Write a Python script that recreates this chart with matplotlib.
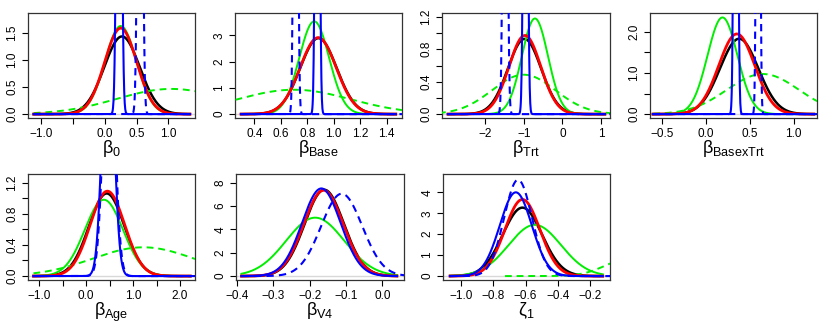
import numpy as np
import matplotlib
matplotlib.use("Agg")
from matplotlib import pyplot as plt

plt.rcParams['font.family'] = ['Liberation Sans', 'DejaVu Sans']
plt.rcParams['mathtext.fontset'] = 'custom'
plt.rcParams['mathtext.rm'] = 'Liberation Sans'
plt.rcParams['mathtext.it'] = 'Liberation Sans:italic'

# one entry per panel
labels = ['β$_{\\mathrm{0}}$', 'β$_{\\mathrm{Base}}$', 'β$_{\\mathrm{Trt}}$', 'β$_{\\mathrm{BasexTrt}}$',
          'β$_{\\mathrm{Age}}$', 'β$_{\\mathrm{V4}}$', 'ζ$_{\\mathrm{1}}$']

# (mean, sd) of each density curve
black_mu = [0.27, 0.885, -0.98, 0.38, 0.44, -0.160, -0.62]
black_sd = [0.279, 0.138, 0.43, 0.218, 0.376, 0.054, 0.122]
red_mu = [0.25, 0.883, -0.97, 0.353, 0.455, -0.162, -0.62]
red_sd = [0.252, 0.137, 0.411, 0.205, 0.366, 0.0543, 0.109]
green_mu = [0.25, 0.853, -0.71, 0.19, 0.38, -0.185, -0.543]
green_sd = [0.246, 0.113, 0.338, 0.17, 0.407, 0.0798, 0.163]
gdash_mu = [1.05, 0.70, -1.0, 0.65, 1.22, None, 0.05]
gdash_sd = [0.86, 0.43, 0.82, 0.41, 1.08, None, 0.15]
gdash_scale = [1, 1, 1, 1, 1, 1, 0.32]
blue_mu = [0.224, 0.877, -0.954, 0.342, 0.47, -0.168, -0.661]
blue_sd = [0.031, 0.012, 0.042, 0.017, 0.12, 0.0532, 0.0997]
bdash_mu = [0.555, 0.713, -1.48, 0.596, 0.49, -0.112, -0.647]
bdash_sd = [0.031, 0.012, 0.045, 0.015, 0.12, 0.0566, 0.0867]

# support of the estimated densities
curve_lo = [-1.12, 0.30, -2.96, -0.60, -1.12, -0.388, -1.07]
curve_hi = [1.34, 1.47, 1.10, 1.23, 2.22, 0.04, -0.12]
gdash_lo = [-1.12, 0.0, -3.5, -0.6, -1.12, None, -0.73]

xticks = [[-1.0, -0.5, 0.0, 0.5, 1.0],
          [0.4, 0.6, 0.8, 1.0, 1.2, 1.4],
          [-2, -1, 0, 1],
          [-0.5, 0.0, 0.5, 1.0],
          [-1.0, -0.5, 0.0, 0.5, 1.0, 1.5, 2.0],
          [-0.4, -0.3, -0.2, -0.1, 0.0],
          [-1.0, -0.8, -0.6, -0.4, -0.2]]
xticklabels = [['−1.0', '', '0.0', '0.5', '1.0'],
               ['0.4', '0.6', '0.8', '1.0', '1.2', '1.4'],
               ['−2', '−1', '0', '1'],
               ['−0.5', '0.0', '0.5', '1.0'],
               ['−1.0', '', '0.0', '', '1.0', '', '2.0'],
               ['−0.4', '−0.3', '−0.2', '−0.1', '0.0'],
               ['−1.0', '−0.8', '−0.6', '−0.4', '−0.2']]
yticks = [[0.0, 0.5, 1.0, 1.5],
          [0, 1, 2, 3],
          [0.0, 0.2, 0.4, 0.6, 0.8, 1.0, 1.2],
          [0.0, 0.5, 1.0, 1.5, 2.0],
          [0.0, 0.2, 0.4, 0.6, 0.8, 1.0, 1.2],
          [0, 2, 4, 6, 8],
          [0, 1, 2, 3, 4]]
yticklabels = [['0.0', '0.5', '1.0', '1.5'],
               ['0', '1', '2', '3'],
               ['0.0', '', '0.4', '', '0.8', '', '1.2'],
               ['0.0', '', '1.0', '', '2.0'],
               ['0.0', '', '0.4', '', '0.8', '', '1.2'],
               ['0', '2', '4', '6', '8'],
               ['0', '1', '2', '3', '4']]

xlims = [(-1.21, 1.42), (0.254, 1.517), (-3.115, 1.232), (-0.634, 1.265),
         (-1.235, 2.319), (-0.403, 0.0595), (-1.114, -0.075)]
ytops = [1.79, 3.70, 1.20, 2.36, 1.26, 8.40, 4.69]

# axes frames in pixels: left, top, right, bottom
frames = [(28, 13, 195, 118), (235, 13, 402, 118), (442, 13, 610, 118), (650, 13, 817, 118),
          (28, 174, 195, 280), (236, 174, 404, 280), (443, 174, 610, 280)]

W, H = 830, 323


def dens(x, mu, sd):
    return np.exp(-0.5 * ((x - mu) / sd) ** 2) / (sd * np.sqrt(2 * np.pi))


fig = plt.figure(figsize=(W / 100, H / 100), dpi=100)

for i in range(7):
    l, t, r, b = frames[i]
    ax = fig.add_axes([l / W, 1 - b / H, (r - l) / W, (b - t) / H])
    x = np.linspace(curve_lo[i], curve_hi[i], 600)
    xw = np.linspace(xlims[i][0] - 0.5, xlims[i][1] + 0.5, 800)

    ax.axhline(0, color='#d8d8d8', lw=1, zorder=1)
    ax.plot(x, dens(x, black_mu[i], black_sd[i]), color='black', lw=1.8, zorder=2)
    if gdash_mu[i] is not None:
        xg = xw[xw >= gdash_lo[i]]
        ax.plot(xg, gdash_scale[i] * dens(xg, gdash_mu[i], gdash_sd[i]), color='#00ee00',
                lw=1.4, dashes=(3.5, 2.5), zorder=3)
    ax.plot(x, dens(x, green_mu[i], green_sd[i]), color='#00ee00', lw=1.4, zorder=3)
    ax.plot(x, dens(x, red_mu[i], red_sd[i]), color='red', lw=2.0, zorder=4)
    xb = np.linspace(curve_lo[i], curve_hi[i] + 0.2 * (curve_hi[i] - curve_lo[i]), 3000)
    ax.plot(xb, dens(xb, bdash_mu[i], bdash_sd[i]), color='blue', lw=1.5,
            dashes=(3.5, 2.5), zorder=5)
    ax.plot(x, dens(x, blue_mu[i], blue_sd[i]), color='blue', lw=1.5, zorder=6)

    ax.set_xlim(*xlims[i])
    ax.set_ylim(-0.04 * ytops[i], 1.04 * ytops[i])
    ax.set_xticks(xticks[i])
    ax.set_xticklabels(xticklabels[i])
    ax.set_yticks(yticks[i])
    ax.set_yticklabels(yticklabels[i], rotation=90, va='center')
    ax.tick_params(direction='out', length=4.5, width=0.8, labelsize=8.5, pad=2.5)
    for s in ax.spines.values():
        s.set_linewidth(0.9)
        s.set_color('#333333')
    ax.set_xlabel(labels[i], fontsize=13, labelpad=-1)

fig.savefig('out.png', dpi=100)
